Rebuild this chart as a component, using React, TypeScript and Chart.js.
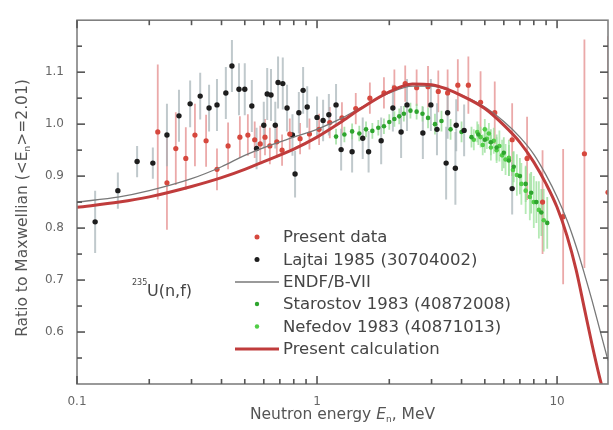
import { useEffect, useRef } from 'react';
import { Chart, registerables } from 'chart.js';

Chart.register(...registerables);

const FONT = '"DejaVu Sans", "Liberation Sans", Arial, sans-serif';

// ---------- Present data ----------
const presentE = [0.217, 0.237, 0.258, 0.284, 0.31, 0.345, 0.383, 0.426, 0.477, 0.515, 0.55, 0.58, 0.607, 0.636, 0.68, 0.715, 0.77, 0.85, 0.93, 1.02, 1.13, 1.27, 1.45, 1.66, 1.9, 2.1, 2.33, 2.6, 2.9, 3.2, 3.5, 3.86, 4.27, 4.8, 5.5, 6.5, 7.5, 8.7, 10.6, 13.0, 16.3];
const presentR = [0.985, 0.887, 0.953, 0.934, 0.979, 0.968, 0.913, 0.958, 0.975, 0.979, 0.97, 0.962, 0.975, 0.958, 0.966, 0.95, 0.981, 0.972, 0.981, 0.99, 1.003, 1.012, 1.03, 1.05, 1.06, 1.07, 1.078, 1.07, 1.072, 1.063, 1.06, 1.075, 1.075, 1.042, 1.022, 0.97, 0.934, 0.85, 0.822, 0.943, 0.869];
const presentErr = [0.13, 0.09, 0.07, 0.06, 0.06, 0.05, 0.04, 0.045, 0.04, 0.04, 0.035, 0.035, 0.035, 0.035, 0.03, 0.03, 0.03, 0.03, 0.03, 0.03, 0.03, 0.03, 0.03, 0.03, 0.03, 0.035, 0.035, 0.035, 0.04, 0.04, 0.045, 0.05, 0.055, 0.06, 0.06, 0.07, 0.08, 0.1, 0.13, 0.22, 0.3];

// ---------- Lajtai 1985 ----------
const lajtaiE = [0.119, 0.148, 0.178, 0.207, 0.237, 0.266, 0.296, 0.326, 0.355, 0.383, 0.417, 0.442, 0.473, 0.5, 0.535, 0.56, 0.6, 0.62, 0.643, 0.67, 0.688, 0.72, 0.75, 0.79, 0.81, 0.84, 0.875, 0.91, 1.0, 1.06, 1.12, 1.2, 1.26, 1.4, 1.55, 1.64, 1.85, 2.07, 2.24, 2.37, 2.76, 2.98, 3.16, 3.45, 3.5, 3.77, 3.8, 4.1, 6.5];
const lajtaiR = [0.812, 0.872, 0.928, 0.925, 0.979, 1.016, 1.039, 1.054, 1.031, 1.037, 1.06, 1.112, 1.067, 1.067, 1.035, 0.953, 0.998, 1.058, 1.056, 0.998, 1.08, 1.078, 1.031, 0.979, 0.904, 1.022, 1.065, 1.033, 1.013, 1.007, 1.018, 1.037, 0.951, 0.947, 0.973, 0.947, 0.968, 1.031, 0.985, 1.037, 0.983, 1.037, 0.99, 0.925, 1.022, 0.915, 0.998, 0.988, 0.876];
const lajtaiErr = [0.06, 0.035, 0.03, 0.03, 0.06, 0.05, 0.045, 0.045, 0.045, 0.05, 0.05, 0.05, 0.05, 0.05, 0.05, 0.04, 0.045, 0.05, 0.05, 0.045, 0.05, 0.05, 0.045, 0.04, 0.045, 0.04, 0.045, 0.04, 0.04, 0.04, 0.04, 0.04, 0.04, 0.04, 0.04, 0.04, 0.045, 0.045, 0.05, 0.05, 0.05, 0.05, 0.05, 0.07, 0.05, 0.07, 0.05, 0.05, 0.05];

// ---------- ENDF/B-VII ----------
const endfE = [0.1, 0.15, 0.2, 0.3, 0.4, 0.5, 0.6, 0.8, 1.0, 1.25, 1.5, 2.0, 2.5, 3.0, 3.5, 4.0, 5.0, 6.0, 7.0, 8.0, 9.0, 10.0, 11.0, 12.0, 13.0, 14.0, 15.0, 16.3];
const endfR = [0.85, 0.86, 0.872, 0.895, 0.918, 0.94, 0.955, 0.975, 0.99, 1.01, 1.03, 1.06, 1.073, 1.073, 1.066, 1.056, 1.033, 1.005, 0.975, 0.942, 0.902, 0.86, 0.815, 0.765, 0.712, 0.66, 0.608, 0.545];

// ---------- Starostov 1983 ----------
const starE = [1.2, 1.3, 1.4, 1.5, 1.6, 1.7, 1.8, 1.9, 2.0, 2.1, 2.2, 2.3, 2.45, 2.6, 2.75, 2.9, 3.1, 3.3, 3.6, 4.0, 4.4, 4.7, 5.0, 5.3, 5.6, 6.0, 6.3, 6.6, 7.0, 7.4, 7.8, 8.2, 8.6, 9.1];
const starR = [0.976, 0.98, 0.986, 0.982, 0.99, 0.987, 0.993, 0.996, 1.004, 1.01, 1.015, 1.02, 1.026, 1.024, 1.02, 1.012, 1.0, 1.006, 0.99, 0.985, 0.975, 0.98, 0.97, 0.965, 0.955, 0.945, 0.93, 0.918, 0.9, 0.885, 0.868, 0.85, 0.83, 0.81];
const starErr = [0.015, 0.015, 0.015, 0.015, 0.015, 0.015, 0.015, 0.015, 0.015, 0.015, 0.015, 0.015, 0.015, 0.015, 0.015, 0.02, 0.02, 0.02, 0.02, 0.02, 0.02, 0.02, 0.025, 0.025, 0.025, 0.03, 0.03, 0.03, 0.035, 0.035, 0.04, 0.04, 0.045, 0.05];

// ---------- Nefedov 1983 ----------
const nefE = [4.5, 4.65, 4.8, 4.9, 5.0, 5.1, 5.2, 5.3, 5.45, 5.6, 5.75, 5.9, 6.1, 6.3, 6.55, 6.8, 7.1, 7.4, 7.7, 8.0, 8.4, 8.8];
const nefR = [0.97, 0.985, 0.975, 0.96, 0.99, 0.972, 0.982, 0.955, 0.968, 0.95, 0.958, 0.94, 0.932, 0.935, 0.912, 0.902, 0.885, 0.872, 0.86, 0.85, 0.835, 0.815];
const nefErr = [0.02, 0.02, 0.02, 0.02, 0.02, 0.02, 0.02, 0.025, 0.025, 0.025, 0.03, 0.03, 0.03, 0.035, 0.035, 0.04, 0.04, 0.045, 0.045, 0.05, 0.055, 0.06];

// ---------- Present calculation ----------
const calcE = [0.1, 0.15, 0.2, 0.3, 0.4, 0.5, 0.6, 0.8, 1.0, 1.25, 1.5, 2.0, 2.5, 3.0, 3.5, 4.0, 5.0, 6.0, 7.0, 8.0, 9.0, 10.0, 11.0, 12.0, 13.0, 14.0, 15.0, 16.0];
const calcR = [0.84, 0.85, 0.86, 0.88, 0.897, 0.913, 0.928, 0.952, 0.975, 1.003, 1.028, 1.062, 1.077, 1.076, 1.067, 1.055, 1.03, 0.998, 0.965, 0.927, 0.885, 0.84, 0.785, 0.72, 0.645, 0.575, 0.515, 0.465];

// ---------- Axes ----------
const xMin = 0.1;
const xMax = 16.3;
const yMin = 0.5;
const yMax = 1.2;
const xTickValues = [0.1, 1, 10];
const xTickLabels = ['0.1', '1', '10'];
const yTickValues = [0.6, 0.7, 0.8, 0.9, 1.0, 1.1];
const yTickLabels = ['0.6', '0.7', '0.8', '0.9', '1.0', '1.1'];
const xMinorMultipliers = [1, 2, 3, 4, 5, 6, 7, 8, 9];
const yTickStep = 0.05;

const seriesLabels = [
  'Present data',
  'Lajtai 1985 (30704002)',
  'ENDF/B-VII',
  'Starostov 1983 (40872008)',
  'Nefedov 1983 (40871013)',
  'Present calculation',
];

const pts = (xs: number[], ys: number[]) => xs.map((x, i) => ({ x, y: ys[i] }));

const RED = 'rgb(214,72,62)';
const BLACK = '#1e1e1e';
const GRAY = 'rgb(120,120,120)';
const GREEN1 = 'rgb(46,165,46)';
const GREEN2 = 'rgb(80,205,70)';
const CALC = 'rgb(192,60,60)';

const errorBarPlugin = {
  id: 'errorBars',
  beforeDatasetsDraw(chart: any) {
    const { ctx, chartArea: a, scales } = chart;
    ctx.save();
    ctx.beginPath();
    ctx.rect(a.left, a.top, a.right - a.left, a.bottom - a.top);
    ctx.clip();
    chart.data.datasets.forEach((ds: any) => {
      if (!ds.errors) return;
      ctx.strokeStyle = ds.errorColor;
      ctx.lineWidth = ds.errorWidth;
      ds.data.forEach((p: any, j: number) => {
        const x = scales.x.getPixelForValue(p.x);
        const y1 = scales.y.getPixelForValue(p.y - ds.errors[j]);
        const y2 = scales.y.getPixelForValue(p.y + ds.errors[j]);
        ctx.beginPath();
        ctx.moveTo(x, y1);
        ctx.lineTo(x, y2);
        ctx.stroke();
      });
    });
    ctx.restore();
  },
};

function drawPieces(ctx: any, pieces: { t: string; f: string; dy: number }[], cx: number, cy: number) {
  let total = 0;
  pieces.forEach((p) => {
    ctx.font = p.f;
    total += ctx.measureText(p.t).width;
  });
  let x = cx - total / 2;
  pieces.forEach((p) => {
    ctx.font = p.f;
    ctx.fillText(p.t, x, cy + p.dy);
    x += ctx.measureText(p.t).width;
  });
}

const decorPlugin = {
  id: 'decor',
  afterDraw(chart: any) {
    const { ctx, chartArea: a, scales } = chart;
    const xs = scales.x;
    const ys = scales.y;
    ctx.save();
    // frame
    ctx.strokeStyle = '#808080';
    ctx.lineWidth = 1.6;
    ctx.strokeRect(a.left, a.top, a.right - a.left, a.bottom - a.top);

    // inward ticks on all four sides, drawn as small filled bars
    ctx.fillStyle = '#555555';
    const tw = 1.6;
    xTickValues.forEach((d) => {
      xMinorMultipliers.forEach((m) => {
        const v = d * m;
        if (v > xMax) return;
        const len = m === 1 ? 8 : 5;
        const px = xs.getPixelForValue(v);
        ctx.fillRect(px - tw / 2, a.bottom - len, tw, len);
        ctx.fillRect(px - tw / 2, a.top, tw, len);
      });
    });
    for (let k = 1; k < 14; k++) {
      const v = yMin + k * yTickStep;
      const len = k % 2 === 0 ? 8 : 5;
      const py = ys.getPixelForValue(v);
      ctx.fillRect(a.left, py - tw / 2, len, tw);
      ctx.fillRect(a.right - len, py - tw / 2, len, tw);
    }

    // axis titles
    ctx.fillStyle = '#555';
    ctx.textBaseline = 'middle';
    ctx.textAlign = 'left';
    drawPieces(
      ctx,
      [
        { t: 'Neutron energy ', f: `15.5px ${FONT}`, dy: 0 },
        { t: 'E', f: `italic 15.5px ${FONT}`, dy: 0 },
        { t: 'n', f: `9px ${FONT}`, dy: 5 },
        { t: ', MeV', f: `15.5px ${FONT}`, dy: 0 },
      ],
      (a.left + a.right) / 2,
      415
    );
    ctx.save();
    ctx.translate(23, 208);
    ctx.rotate(-Math.PI / 2);
    drawPieces(
      ctx,
      [
        { t: 'Ratio to Maxwellian (<E', f: `15.5px ${FONT}`, dy: 0 },
        { t: 'n', f: `9px ${FONT}`, dy: 5 },
        { t: '>=2.01)', f: `15.5px ${FONT}`, dy: 0 },
      ],
      0,
      0
    );
    ctx.restore();

    // reaction label
    ctx.fillStyle = '#444';
    ctx.font = `8px ${FONT}`;
    ctx.fillText('235', 132, 283);
    ctx.font = `16px ${FONT}`;
    ctx.fillText('U(n,f)', 147, 292);

    // legend
    const entries = [
      { kind: 'pt', color: RED, r: 2.5 },
      { kind: 'pt', color: BLACK, r: 2.5 },
      { kind: 'ln', color: GRAY, w: 1.3 },
      { kind: 'pt', color: GREEN1, r: 2.2 },
      { kind: 'pt', color: GREEN2, r: 2.2 },
      { kind: 'ln', color: CALC, w: 3 },
    ];
    const rowY = [237, 259.5, 282, 304, 326.5, 349];
    entries.forEach((e: any, i) => {
      const y = rowY[i];
      if (e.kind === 'pt') {
        ctx.fillStyle = e.color;
        ctx.beginPath();
        ctx.arc(257, y, e.r, 0, Math.PI * 2);
        ctx.fill();
      } else {
        ctx.strokeStyle = e.color;
        ctx.lineWidth = e.w;
        ctx.beginPath();
        ctx.moveTo(235, y);
        ctx.lineTo(279, y);
        ctx.stroke();
      }
      ctx.fillStyle = '#454545';
      ctx.font = `16.5px ${FONT}`;
      ctx.textBaseline = 'middle';
      ctx.fillText(seriesLabels[i], 283, y + 1);
    });
    ctx.restore();
  },
};

export default function App() {
  const ref = useRef<HTMLCanvasElement | null>(null);
  useEffect(() => {
    document.body.style.margin = '0';
    const canvas = ref.current;
    if (!canvas) return;
    const chart = new Chart(canvas, {
      type: 'scatter',
      data: {
        datasets: [
          {
            label: seriesLabels[5],
            data: pts(calcE, calcR),
            showLine: true,
            borderColor: CALC,
            borderWidth: 3,
            pointRadius: 0,
            cubicInterpolationMode: 'monotone',
            order: 0,
          } as any,
          {
            label: seriesLabels[2],
            data: pts(endfE, endfR),
            showLine: true,
            borderColor: GRAY,
            borderWidth: 1.3,
            pointRadius: 0,
            cubicInterpolationMode: 'monotone',
            order: 1,
          } as any,
          {
            label: seriesLabels[0],
            data: pts(presentE, presentR),
            backgroundColor: RED,
            borderWidth: 0,
            pointRadius: 2.6,
            errors: presentErr,
            errorColor: 'rgba(228,140,140,0.75)',
            errorWidth: 1.8,
            order: 2,
          } as any,
          {
            label: seriesLabels[1],
            data: pts(lajtaiE, lajtaiR),
            backgroundColor: BLACK,
            borderWidth: 0,
            pointRadius: 2.7,
            errors: lajtaiErr,
            errorColor: 'rgba(165,178,182,0.7)',
            errorWidth: 2,
            order: 3,
          } as any,
          {
            label: seriesLabels[3],
            data: pts(starE, starR),
            backgroundColor: GREEN1,
            borderWidth: 0,
            pointRadius: 2.3,
            errors: starErr,
            errorColor: 'rgba(140,215,140,0.7)',
            errorWidth: 1.8,
            order: 4,
          } as any,
          {
            label: seriesLabels[4],
            data: pts(nefE, nefR),
            backgroundColor: GREEN2,
            borderWidth: 0,
            pointRadius: 2.3,
            errors: nefErr,
            errorColor: 'rgba(150,225,150,0.7)',
            errorWidth: 1.8,
            order: 5,
          } as any,
        ],
      },
      options: {
        animation: false,
        responsive: false,
        layout: { padding: { top: 10, right: 5, left: 0, bottom: 0 } },
        plugins: { legend: { display: false }, tooltip: { enabled: false } },
        scales: {
          x: {
            type: 'logarithmic',
            min: xMin,
            max: xMax,
            grid: { display: false, drawTicks: false },
            border: { display: false },
            afterFit: (s: any) => {
              s.height = 46;
            },
            afterBuildTicks: (s: any) => {
              s.ticks = xTickValues.map((v) => ({ value: v }));
            },
            ticks: {
              autoSkip: false,
              maxRotation: 0,
              padding: 11,
              color: '#666',
              font: { family: FONT, size: 12 },
              callback: (_v: any, i: number) => xTickLabels[i],
            },
          },
          y: {
            type: 'linear',
            min: yMin,
            max: yMax,
            grid: { display: false, drawTicks: false },
            border: { display: false },
            afterFit: (s: any) => {
              s.width = 77;
            },
            afterBuildTicks: (s: any) => {
              s.ticks = yTickValues.map((v) => ({ value: v }));
            },
            ticks: {
              padding: 13,
              color: '#666',
              font: { family: FONT, size: 12 },
              callback: (_v: any, i: number) => yTickLabels[i],
            },
          },
        },
      } as any,
      plugins: [errorBarPlugin, decorPlugin],
    });
    return () => chart.destroy();
  }, []);
  return (
    <div style={{ width: 613, height: 430, background: '#fff' }}>
      <canvas ref={ref} width={613} height={430} style={{ display: 'block' }} />
    </div>
  );
}
